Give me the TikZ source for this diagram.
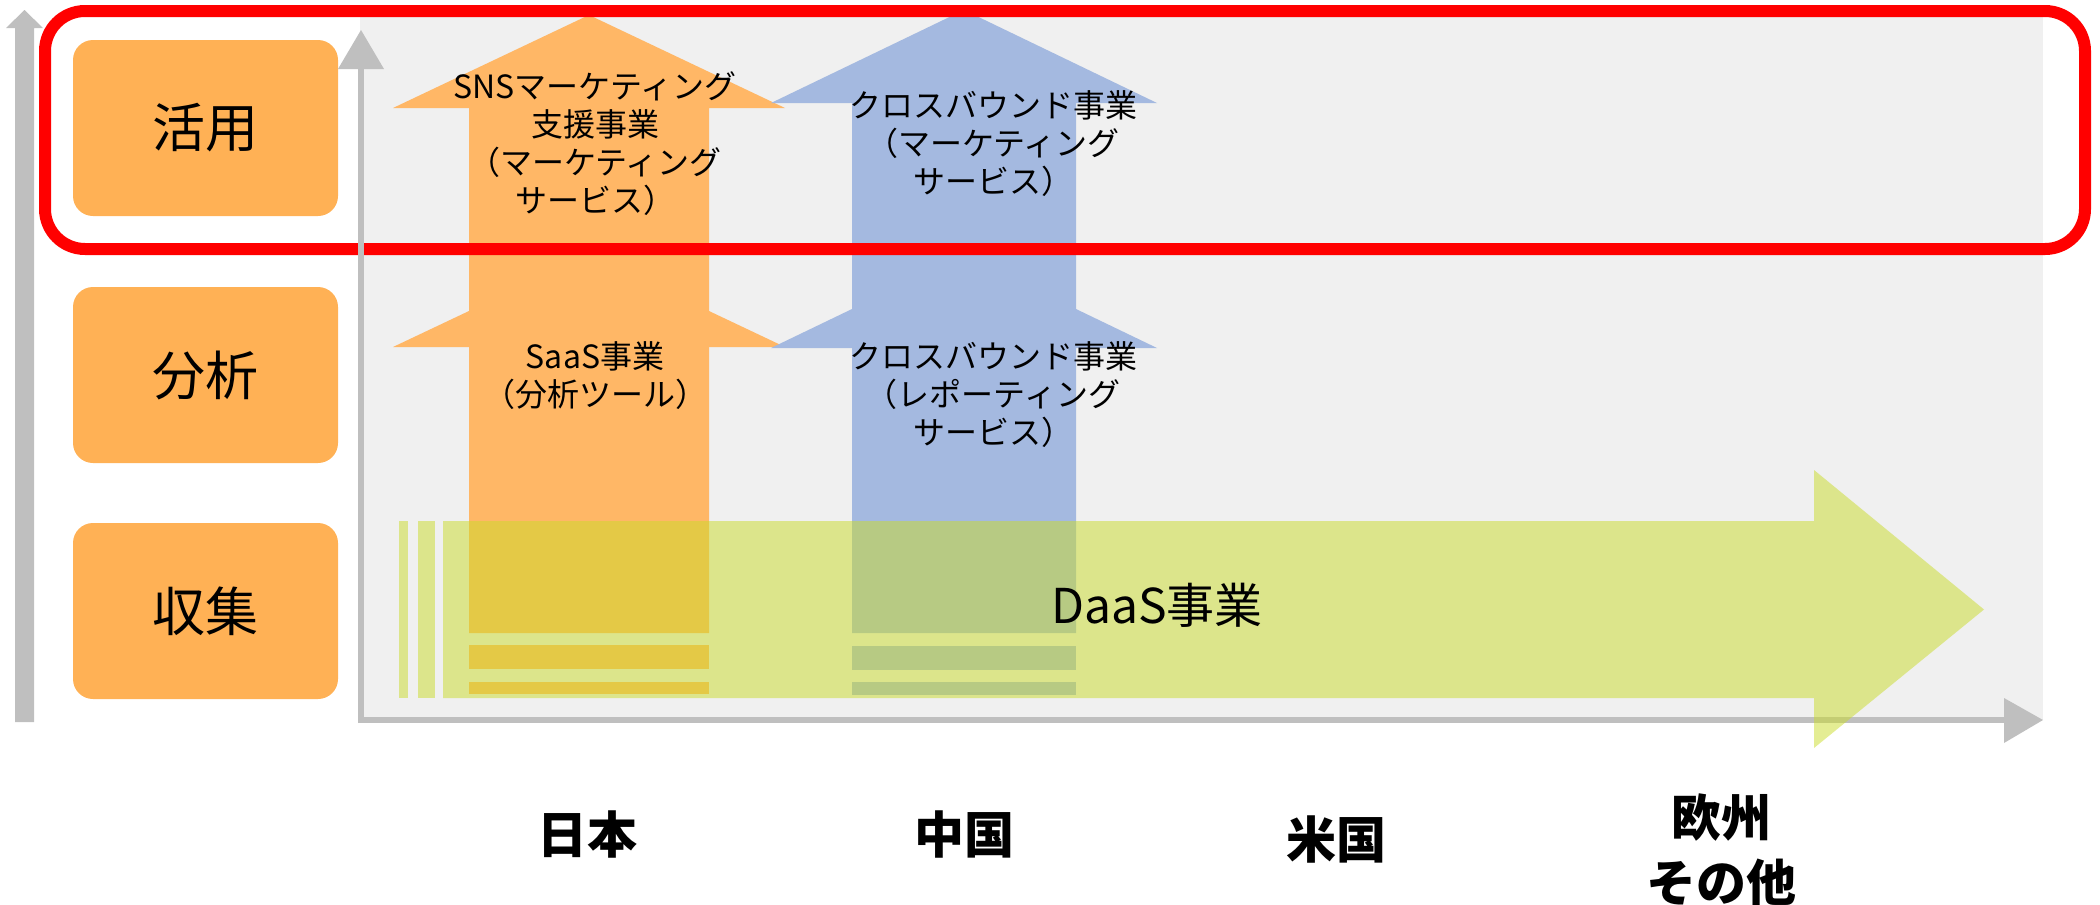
\documentclass[tikz,border=0pt]{standalone}
\usepackage{fontspec}
\setmainfont{Noto Sans CJK JP}
\definecolor{boxor}{HTML}{FFB155}
\definecolor{arror}{HTML}{FFB766}
\definecolor{arrbl}{HTML}{A4B9E0}
\definecolor{grn}{RGB}{202,220,40}
\definecolor{panelg}{HTML}{F0F0F0}
\definecolor{axisg}{HTML}{BFBFBF}
\definecolor{redline}{HTML}{FF0000}
\tikzset{
  lbox/.style={fill=boxor, rounded corners=10pt, minimum width=132.5pt, minimum height=88pt, inner sep=0pt, font=\fontsize{26.5}{30}\selectfont},
  arrtext/.style={align=center, inner sep=0pt, font=\fontsize{16}{19}\selectfont},
  country/.style={align=center, inner sep=0pt, font=\bfseries\fontsize{25}{32.5}\selectfont},
  axisfill/.style={fill=axisg},
  axisline/.style={draw=axisg, line width=3pt},
  greenarrow/.style={fill=grn, fill opacity=0.5},
}
\begin{document}
\begin{tikzpicture}[x=0.5pt,y=-0.5pt]
\useasboundingbox (0,0) rectangle (2100,905);
% background panel
\fill[panelg] (360,12) rectangle (2043,720);
% outer vertical arrow
\fill[axisg] (15,722) -- (15,28) -- (6,28) -- (24.5,10) -- (43,28) -- (34,28) -- (34,722) -- cycle;
% horizontal axis
\coordinate (xo) at (358,720);
\coordinate (xe) at (2004,720);
\draw[axisline] (xo) -- (xe);
\fill[axisfill] (2004,698) -- (2043,720) -- (2004,743) -- cycle;
% left labels
\node[lbox] (katsuyo) at (205.5,128) {活用};
\node[lbox] (bunseki) at (205.5,375) {分析};
\node[lbox] (shushu) at (205.5,611) {収集};
% orange arrows
\fill[arror] (469,633) -- (469,108) -- (393,108) -- (589,15) -- (785,108) -- (709,108) -- (709,633) -- cycle;
\fill[arror] (469,311) -- (393,347) -- (785,347) -- (709,311) -- cycle;
\fill[arror] (469,645) rectangle (709,669);
\fill[arror] (469,682) rectangle (709,694);
% blue arrows
\fill[arrbl] (852,633) -- (852,103) -- (771,103) -- (964,10) -- (1157,103) -- (1076,103) -- (1076,633) -- cycle;
\fill[arrbl] (852,309) -- (771,348) -- (1157,348) -- (1076,309) -- cycle;
\fill[arrbl] (852,646) rectangle (1076,670);
\fill[arrbl] (852,682) rectangle (1076,695);
% green arrow (translucent)
\fill[greenarrow] (399,521) rectangle (408,698);
\fill[greenarrow] (418,521) rectangle (435,698);
\fill[greenarrow] (443,521) -- (1814,521) -- (1814,470) -- (1984,609.5) -- (1814,748) -- (1814,698) -- (443,698) -- cycle;
% arrow texts
\node[arrtext] (sns) at (595,144) {SNSマーケティング\\支援事業\\（マーケティング\\サービス）};
\node[arrtext] (saas) at (595,376) {SaaS事業\\（分析ツール）};
\node[arrtext] (cb1) at (993,144) {クロスバウンド事業\\（マーケティング\\サービス）};
\node[arrtext] (cb2) at (993,395) {クロスバウンド事業\\（レポーティング\\サービス）};
\node[inner sep=0pt, font=\fontsize{24}{28}\selectfont] (daas) at (1157,605) {DaaS事業};
% red highlight
\draw[redline, line width=6pt, rounded corners=20pt] (45,11) rectangle (2085,249);
% inner vertical axis
\coordinate (yo) at (361,723);
\coordinate (ye) at (361,69);
\draw[axisline] (yo) -- (ye);
\fill[axisfill] (338,69) -- (361,30) -- (384,69) -- cycle;
% countries
\node[country] (nihon) at (587,834) {日本};
\node[country] (chugoku) at (964,834) {中国};
\node[country] (beikoku) at (1336,839) {米国};
\node[country] (oshu) at (1721,850) {欧州\\その他};
\end{tikzpicture}
\end{document}
